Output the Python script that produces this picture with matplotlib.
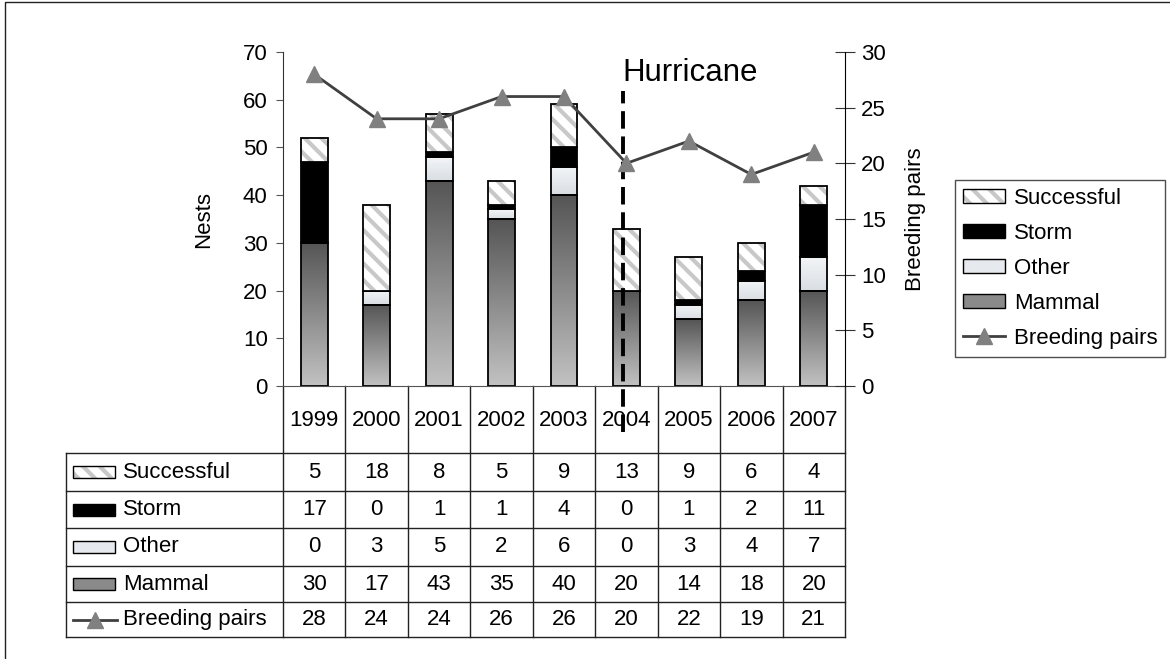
import matplotlib
import numpy as np

matplotlib.use("Agg")
import matplotlib.pyplot as plt
from matplotlib.colors import LinearSegmentedColormap
from matplotlib.lines import Line2D
from matplotlib.patches import Patch, Rectangle

plt.rcParams["font.family"] = ["Liberation Sans", "DejaVu Sans"]
plt.rcParams["hatch.linewidth"] = 3.0

years = ["1999", "2000", "2001", "2002", "2003", "2004", "2005", "2006", "2007"]
mammal = [30, 17, 43, 35, 40, 20, 14, 18, 20]
other = [0, 3, 5, 2, 6, 0, 3, 4, 7]
storm = [17, 0, 1, 1, 4, 0, 1, 2, 11]
successful = [5, 18, 8, 5, 9, 13, 9, 6, 4]
pairs = [28, 24, 24, 26, 26, 20, 22, 19, 21]
hurricane_x = 4.95

W, H = 1170, 659
FS = 16
HATCH = "\\\\"
x = np.arange(len(years))
bar_w = 0.43


def gradient_fill(ax, bars, top_color, bottom_color):
    cmap = LinearSegmentedColormap.from_list("g", [bottom_color, top_color])
    grad = np.linspace(0, 1, 256).reshape(-1, 1)
    for b in bars:
        h = b.get_height()
        if h <= 0:
            continue
        x0, y0, w = b.get_x(), b.get_y(), b.get_width()
        im = ax.imshow(grad, extent=[x0, x0 + w, y0, y0 + h], origin="lower",
                       cmap=cmap, aspect="auto", zorder=1.5)
        im.set_clip_path(b)


fig = plt.figure(figsize=(W / 100, H / 100), dpi=100)

# overlay in pixel coordinates for the frame and data table
ov = fig.add_axes([0, 0, 1, 1])
ov.set_xlim(0, W)
ov.set_ylim(H, 0)
ov.axis("off")
ov.add_patch(Rectangle((5, 2), 1300, 800, fill=False, lw=1.0, ec="#222222"))

ax = fig.add_axes([283 / W, 1 - 386 / H, (845 - 283) / W, (386 - 52) / H])
ax.patch.set_visible(False)

bottom = np.zeros(len(years))
b_mam = ax.bar(x, mammal, bar_w, bottom=bottom, facecolor="none", edgecolor="black", lw=1.3, zorder=2)
gradient_fill(ax, b_mam, "#555555", "#c2c2c2")
bottom += mammal
b_oth = ax.bar(x, other, bar_w, bottom=bottom, facecolor="none", edgecolor="black", lw=1.3, zorder=2)
gradient_fill(ax, b_oth, "#f3f5f7", "#d9dee3")
bottom += other
ax.bar(x, storm, bar_w, bottom=bottom, facecolor="black", edgecolor="black", lw=1.3, zorder=2)
bottom += storm
ax.bar(x, successful, bar_w, bottom=bottom, facecolor="white", edgecolor="#c8c8c8", hatch=HATCH, lw=0, zorder=2)
ax.bar(x, successful, bar_w, bottom=bottom, facecolor="none", edgecolor="black", lw=1.3, zorder=2.1)

ax.plot([hurricane_x, hurricane_x], [-9.6, 61.8], color="black", lw=2.8,
        linestyle=(0, (4.5, 2)), clip_on=False, zorder=3)
ax.text(hurricane_x - 0.02, 65.5, "Hurricane", fontsize=22.5, va="center", ha="left")

ax.set_xlim(-0.5, len(years) - 0.5)
ax.set_ylim(0, 70)
ax.set_yticks(range(0, 71, 10))
ax.set_xticks([])
ax.tick_params(axis="y", labelsize=FS, length=5, color="#555555", direction="out", pad=6)
ax.spines["top"].set_visible(False)
ax.spines["right"].set_visible(False)
ax.spines["left"].set_color("#333333")
ax.spines["bottom"].set_color("#555555")
ax.set_ylabel("Nests", fontsize=FS, labelpad=21)

ax2 = ax.twinx()
ax2.plot(x, pairs, color="#404040", lw=2, marker="^", ms=11,
         mfc="#808080", mec="#808080", zorder=4)
ax2.set_ylim(0, 30)
ax2.set_yticks(range(0, 31, 5))
ax2.tick_params(axis="y", labelsize=FS, length=15, direction="inout", color="#333333", pad=4)
for s in ["top", "left", "bottom"]:
    ax2.spines[s].set_visible(False)
ax2.spines["right"].set_color("black")
ax2.set_ylabel("Breeding pairs", fontsize=FS, labelpad=14)

# legend on the right
h_succ = (Patch(facecolor="white", edgecolor="#c8c8c8", hatch=HATCH, lw=0),
          Patch(facecolor="none", edgecolor="black", lw=1))
h_storm = Patch(facecolor="black", edgecolor="black")
h_other = Patch(facecolor="#e6e9ed", edgecolor="black", lw=1)
h_mam = Patch(facecolor="#8a8a8a", edgecolor="black", lw=1)
h_pairs = Line2D([], [], color="#404040", lw=2, marker="^", ms=11, mfc="#808080", mec="#808080")
leg = fig.legend([h_succ, h_storm, h_other, h_mam, h_pairs],
                 ["Successful", "Storm", "Other", "Mammal", "Breeding pairs"],
                 loc="upper left", bbox_to_anchor=(955 / W, 1 - 180 / H),
                 fontsize=FS, frameon=True, fancybox=False, edgecolor="#222222",
                 handlelength=1.9, handleheight=0.6, handletextpad=0.4,
                 labelspacing=0.63, borderpad=0.35, borderaxespad=0)
leg.get_frame().set_linewidth(1.0)

# data table
col0 = 283
colw = (845 - 283) / len(years)
tab_left = 66
row_edges = [453, 491, 528, 566, 602, 637]
line_kw = dict(color="#222222", lw=1.0)

for k in range(len(years) + 1):
    ov.plot([col0 + k * colw] * 2, [386, row_edges[-1]], **line_kw)
ov.plot([tab_left, tab_left], [row_edges[0], row_edges[-1]], **line_kw)
for y in row_edges:
    ov.plot([tab_left, col0 + len(years) * colw], [y, y], **line_kw)

for i, yr in enumerate(years):
    ov.text(col0 + (i + 0.5) * colw, 420, yr, fontsize=FS, ha="center", va="center")

rows = [("Successful", successful), ("Storm", storm), ("Other", other),
        ("Mammal", mammal), ("Breeding pairs", pairs)]
for r, (name, vals) in enumerate(rows):
    yc = (row_edges[r] + row_edges[r + 1]) / 2
    for i, v in enumerate(vals):
        ov.text(col0 + (i + 0.5) * colw, yc, str(v), fontsize=FS, ha="center", va="center")
    ov.text(123, yc, name, fontsize=FS, ha="left", va="center")
    if name == "Breeding pairs":
        ov.plot([73, 117], [yc, yc], color="#404040", lw=2)
        ov.plot([95], [yc], marker="^", ms=11, color="#808080")
    elif name == "Successful":
        ov.add_patch(Rectangle((73, yc - 6), 42, 12, facecolor="white", edgecolor="#c8c8c8", hatch=HATCH, lw=0))
        ov.add_patch(Rectangle((73, yc - 6), 42, 12, facecolor="none", edgecolor="black", lw=1))
    else:
        fc = {"Storm": "black", "Other": "#e6e9ed", "Mammal": "#8a8a8a"}[name]
        ov.add_patch(Rectangle((73, yc - 6), 42, 12, facecolor=fc, edgecolor="black", lw=1))

fig.savefig("out.png", dpi=100)
